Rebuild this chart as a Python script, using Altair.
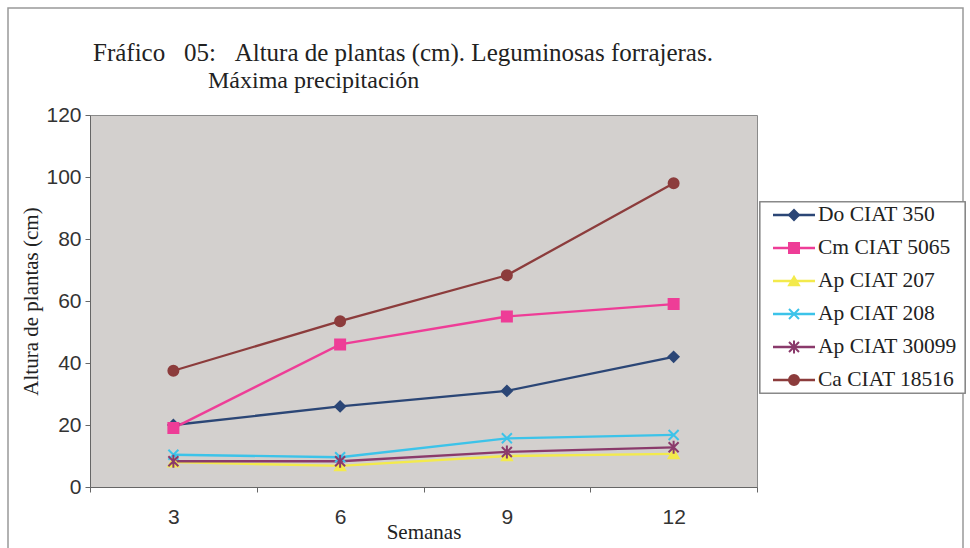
import altair as alt
import pandas as pd

weeks = [3, 6, 9, 12]
series = ["Do CIAT 350", "Cm CIAT 5065", "Ap CIAT 207", "Ap CIAT 208", "Ap CIAT 30099", "Ca CIAT 18516"]
do_350 = [20, 26, 31, 42]
cm_5065 = [19, 46, 55, 59]
ap_207 = [8, 6.8, 10, 10.7]
ap_208 = [10.4, 9.6, 15.7, 16.8]
ap_30099 = [8.3, 8.3, 11.3, 12.8]
ca_18516 = [37.5, 53.5, 68.3, 98]
values = [do_350, cm_5065, ap_207, ap_208, ap_30099, ca_18516]

colors = ["#2b4676", "#ee3d97", "#f3ea4c", "#3cc3e9", "#8a3a6b", "#8c3c3c"]
shapes = ["diamond", "square", "triangle-up",
          "M-1,-1L1,1M-1,1L1,-1",
          "M-1,-1L1,1M-1,1L1,-1M0,-1.3L0,1.3",
          "circle"]

title_1 = "Fráfico\u00a0\u00a0\u00a005:\u00a0\u00a0\u00a0Altura de plantas (cm). Leguminosas forrajeras."
title_2 = "Máxima precipitación"

rows = []
for name, vals in zip(series, values):
    for w, v in zip(weeks, vals):
        rows.append({"Semanas": w, "serie": name, "altura": v})
df = pd.DataFrame(rows)
legend_df = pd.DataFrame({"serie": series})

SERIF = "Liberation Serif"
SANS = "Liberation Sans"

color_scale = alt.Scale(domain=series, range=colors)
shape_scale = alt.Scale(domain=series, range=shapes)

x_enc = alt.X(
    "Semanas:O",
    bandPosition=0.5,
    sort=weeks,
    scale=alt.Scale(type="band", paddingInner=0, paddingOuter=0),
    axis=alt.Axis(
        title="Semanas", tickBand="extent", labelAngle=0,
        labelFont=SANS, labelFontSize=21, labelColor="#333", labelPadding=14,
        titleFont=SERIF, titleFontSize=21, titleFontWeight="normal", titleColor="#222",
        titlePadding=-6, tickSize=5, tickColor="#666", domainColor="#666",
    ),
)
y_enc = alt.Y(
    "altura:Q",
    scale=alt.Scale(domain=[0, 120], nice=False),
    axis=alt.Axis(
        title="Altura de plantas (cm)", values=[0, 20, 40, 60, 80, 100, 120], grid=False,
        labelFont=SANS, labelFontSize=21, labelColor="#333", labelPadding=4,
        titleFont=SERIF, titleFontSize=21, titleFontWeight="normal", titleColor="#222",
        titlePadding=4, tickSize=5, tickColor="#666", domainColor="#666",
    ),
)
color_enc = alt.Color("serie:N", scale=color_scale, legend=None)
stroke_enc = alt.Stroke("serie:N", scale=color_scale, legend=None)
shape_enc = alt.Shape("serie:N", scale=shape_scale, legend=None)

base = alt.Chart(df)
lines = base.mark_line(strokeWidth=2.3).encode(x=x_enc, y=y_enc, color=color_enc, detail="serie:N")
points = base.mark_point(filled=True, size=100, opacity=1, strokeWidth=2).encode(
    x=x_enc, y=y_enc, color=color_enc, stroke=stroke_enc, shape=shape_enc
)
main = alt.layer(lines, points)

leg_y = alt.Y("serie:N", sort=series, scale=alt.Scale(type="point", domain=series, range=[100, 265], padding=0), axis=None)
leg = alt.Chart(legend_df)
leg_box = leg.mark_rect(fill="white", stroke="#888", strokeWidth=1.2).encode(
    x=alt.value(670), x2=alt.value(875), y=alt.value(87), y2=alt.value(278)
)
leg_rule = leg.mark_rule(strokeWidth=2.3).encode(x=alt.value(683), x2=alt.value(725), y=leg_y, color=color_enc)
leg_pts = leg.mark_point(filled=True, size=100, opacity=1, strokeWidth=2).encode(
    x=alt.value(704), y=leg_y, color=color_enc, stroke=stroke_enc, shape=shape_enc
)
leg_txt = leg.mark_text(align="left", baseline="middle", font=SERIF, fontSize=21.5, color="#222").encode(
    x=alt.value(728), y=leg_y, text="serie:N"
)
legend = alt.layer(leg_box, leg_rule, leg_pts, leg_txt)

tdf = pd.DataFrame({"t1": [title_1], "t2": [title_2]})
frame = alt.Chart(tdf).mark_rect(fill=None, stroke="#999", strokeWidth=1.5).encode(
    x=alt.value(-82), x2=alt.value(873), y=alt.value(-107), y2=alt.value(450)
)
t1 = alt.Chart(tdf).mark_text(align="left", baseline="alphabetic", font=SERIF, fontSize=25, color="#222").encode(
    x=alt.value(3), y=alt.value(-54), text="t1:N"
)
t2 = alt.Chart(tdf).mark_text(align="left", baseline="alphabetic", font=SERIF, fontSize=24, color="#222").encode(
    x=alt.value(118), y=alt.value(-27), text="t2:N"
)

chart = (
    alt.layer(frame, t1, t2, main, legend)
    .resolve_scale(y="independent")
    .properties(
        width=667, height=372,
        padding={"left": 90, "top": 115, "right": 213, "bottom": 61},
        autosize=alt.AutoSizeParams(type="none"),
        background="white",
    )
    .configure_view(fill="#d3d0ce", stroke="#8a8a8a", strokeWidth=1)
)

chart.save("out.html", embed_options={"renderer": "svg", "actions": False})
